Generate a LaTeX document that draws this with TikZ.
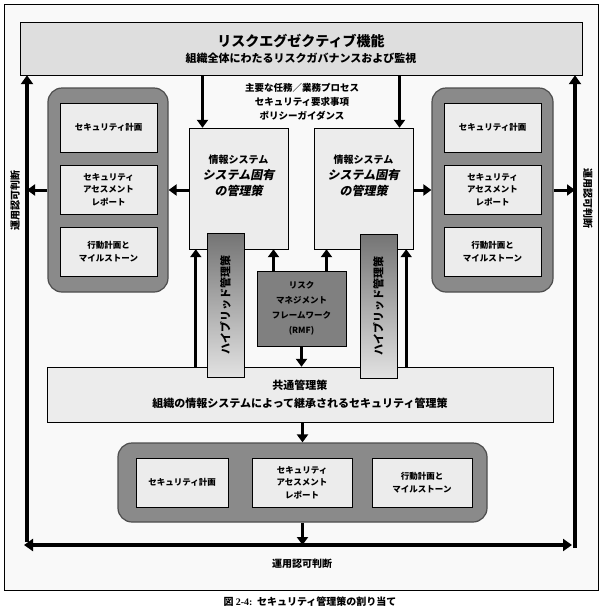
\documentclass[tikz,border=0pt]{standalone}
\usepackage{fontspec}
\setmainfont{Noto Sans CJK JP}
\newfontfamily\slantjp{Noto Sans CJK JP}[FakeSlant=0.2]
\newfontfamily\capserif{Liberation Serif}
\usetikzlibrary{positioning, arrows.meta}

\definecolor{framebg}{HTML}{F9F9F9}
\definecolor{execgray}{HTML}{DEDEDE}
\definecolor{boxgray}{HTML}{ECECEC}
\definecolor{panelgray}{HTML}{8A8A8A}
\definecolor{panelline}{HTML}{4D4D4D}
\definecolor{rmfgray}{HTML}{808080}
\definecolor{hybdark}{HTML}{747474}
\definecolor{hyblight}{HTML}{E2E2E2}

\begin{document}
\begin{tikzpicture}[x=1pt, y=-1pt, node distance=62pt and 120pt, on grid,
   box/.style={draw, fill=boxgray, inner sep=0pt, align=center, minimum width=97pt,
     minimum height=49pt, font=\bfseries\fontsize{8.5}{12.5}\selectfont},
   panel/.style={draw=panelline, line width=1.2pt, fill=panelgray, rounded corners=14pt},
   hybrid/.style={draw, rotate=90, top color=hybdark, bottom color=hyblight,
     minimum width=144pt, minimum height=37pt, font=\bfseries\fontsize{11}{12}\selectfont},
   arr/.style={line width=3pt, -{Triangle[length=8pt, width=11pt]}},
   oparr/.style={line width=4pt, -{Triangle[length=9pt, width=12pt]}},
   lbl/.style={font=\bfseries\fontsize{10}{12}\selectfont}]

   \useasboundingbox (0,0) rectangle (604,611);

   % Frame and caption
   \node[draw, line width=1pt, fill=framebg, minimum width=594pt, minimum height=586pt] (frame) at (301,297) {};
   \node[font=\bfseries\fontsize{10}{12}\selectfont] (caption) at (310,602) {図 {\capserif 2-4:}\ \ セキュリティ管理策の割り当て};

   % Risk executive function
   \node[draw, fill=execgray, minimum width=562pt, minimum height=53pt, align=center, font=\bfseries] (exec) at (301,48.5)
      {\fontsize{14}{16}\selectfont リスクエグゼクティブ機能\\[4pt]\fontsize{11}{13}\selectfont 組織全体にわたるリスクガバナンスおよび監視};
   \node[align=center, font=\bfseries\fontsize{9.5}{14}\selectfont] (reqs) at (302,102)
      {主要な任務／業務プロセス\\セキュリティ要求事項\\ポリシーガイダンス};

   % Information systems
   \node[draw, fill=boxgray, minimum width=99pt, minimum height=121pt] (info1) at (238.5,188.5) {};
   \node[draw, fill=boxgray, minimum width=99pt, minimum height=121pt] (info2) at (363.5,188.5) {};
   \node[align=center, font=\bfseries\fontsize{10}{16}\selectfont] (info1txt) at ([yshift=13pt]info1.center)
      {情報システム\\\slantjp\fontsize{12}{16}\selectfont システム固有\\\slantjp\fontsize{12}{16}\selectfont の管理策};
   \node[align=center, font=\bfseries\fontsize{10}{16}\selectfont] (info2txt) at ([yshift=13pt]info2.center)
      {情報システム\\\slantjp\fontsize{12}{16}\selectfont システム固有\\\slantjp\fontsize{12}{16}\selectfont の管理策};

   % Side panels
   \node[panel, minimum width=120pt, minimum height=204pt] (panelL) at (108,190) {};
   \node[box] (assessL) at (108.5,189.5) {セキュリティ\\アセスメント\\レポート};
   \node[box] (planL) [above=of assessL] {セキュリティ計画};
   \node[box] (mileL) [below=of assessL] {行動計画と\\マイルストーン};

   \node[panel, minimum width=121pt, minimum height=204pt] (panelR) at (492.5,190) {};
   \node[box] (assessR) at (492.5,189.5) {セキュリティ\\アセスメント\\レポート};
   \node[box] (planR) [above=of assessR] {セキュリティ計画};
   \node[box] (mileR) [below=of assessR] {行動計画と\\マイルストーン};

   % RMF and common controls
   \node[draw, fill=rmfgray, minimum width=89pt, minimum height=75pt, align=center,
      font=\bfseries\fontsize{8.5}{15}\selectfont] (rmf) at (301.5,308.5) {リスク\\マネジメント\\フレームワーク\\(RMF)};
   \node[draw, fill=boxgray, minimum width=506pt, minimum height=55pt, align=center,
      font=\bfseries\fontsize{11}{18}\selectfont] (common) at (300,394.5)
      {共通管理策\\組織の情報システムによって継承されるセキュリティ管理策};

   % Hybrid controls
   \node[hybrid] (hyb1) at (225.5,305) {ハイブリッド管理策};
   \node[hybrid] (hyb2) at (378.5,306) {ハイブリッド管理策};

   % Bottom panel
   \node[panel, minimum width=369pt, minimum height=79pt] (panelB) at (302.5,482.5) {};
   \node[box, minimum width=100pt] (assessB) at (302,482.5) {セキュリティ\\アセスメント\\レポート};
   \node[box, minimum width=92pt] (planB) [left=of assessB] {セキュリティ計画};
   \node[box, minimum width=100pt] (mileB) [right=of assessB] {行動計画と\\マイルストーン};

   % Authorization decisions
   \coordinate (opL) at (27,542);
   \coordinate (opR) at (575,548);
   \coordinate (tipL) at (24,545);
   \coordinate (tipR) at (572,545);
   \node[lbl] (authB) at (302,564) {運用認可判断};
   \node[lbl, rotate=90] (authL) at (15,200) {運用認可判断};
   \node[lbl, rotate=-90] (authR) at (588,198) {運用認可判断};

   % Arrows
   \draw[arr] ([xshift=-36pt]info1.north |- exec.south) -- ([xshift=-36pt]info1.north);
   \draw[arr] ([xshift=36pt]info2.north |- exec.south) -- ([xshift=36pt]info2.north);
   \draw[arr] (info1.west |- panelL.east) -- (panelL.east);
   \draw[arr] (info2.east |- panelR.west) -- (panelR.west);
   \draw[arr] ([xshift=7pt]info1.south west |- common.north) -- ([xshift=7pt]info1.south west);
   \draw[arr] ([xshift=-7pt]info2.south east |- common.north) -- ([xshift=-7pt]info2.south east);
   \draw[arr] ([xshift=-28pt]rmf.north) -- ([xshift=-28pt]rmf.north |- info1.south);
   \draw[arr] ([xshift=25pt]rmf.north) -- ([xshift=25pt]rmf.north |- info2.south);
   \draw[arr] (rmf.south) -- (rmf.south |- common.north);
   \draw[arr] (common.south -| panelB.north) -- (panelB.north);
   \draw[arr] (panelB.south) -- (panelB.south |- tipL);
   \draw[arr] (panelL.west) -- (panelL.west -| opL);
   \draw[arr] (panelR.east) -- (panelR.east -| opR);
   \draw[oparr] (opL) -- (opL |- exec.south);
   \draw[oparr] (opR) -- (opR |- exec.south);
   \draw[oparr, {Triangle[length=9pt, width=12pt]}-{Triangle[length=9pt, width=12pt]}] (tipL) -- (tipR);
\end{tikzpicture}
\end{document}
